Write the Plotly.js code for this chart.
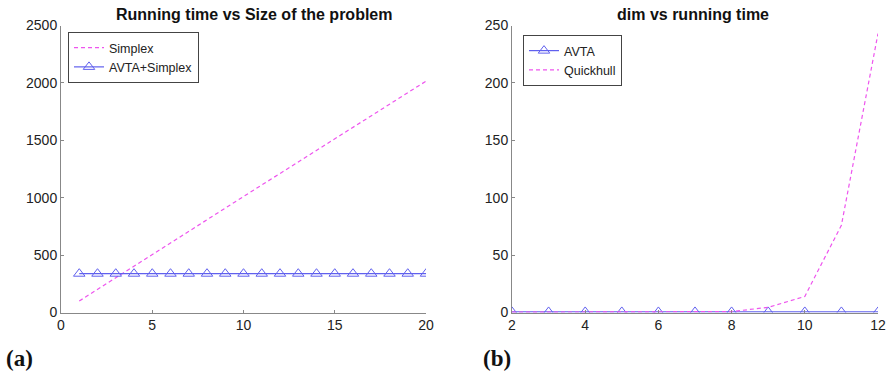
<!DOCTYPE html>
<html><head><meta charset="utf-8">
<script src="https://cdn.plot.ly/plotly-3.0.1.min.js"></script>
<style>html,body{margin:0;padding:0;background:#fff}#c{width:889px;height:376px}</style>
</head><body><div id="c"></div>
<script>
// Panel (a)
const sizeX = [1,2,3,4,5,6,7,8,9,10,11,12,13,14,15,16,17,18,19,20];
const simplexTime = [100,202,303,404,505,606,707,808,909,1010,1111,1212,1313,1414,1515,1616,1717,1818,1919,2015];
const avtaSimplexTime = [338,338,338,338,338,338,338,338,338,338,338,338,338,338,338,338,338,338,338,338];
// Panel (b)
const dimX = [2,3,4,5,6,7,8,9,10,11,12];
const avtaTime = [0.5,0.5,0.5,0.5,0.5,0.5,0.5,0.5,0.5,0.5,0.5];
const quickhullTime = [0.3,0.3,0.4,0.4,0.5,0.6,0.8,4.5,14,76,243];

const magenta = '#ee55ee';
const blue = '#6060ee';
const font = 'Liberation Sans, Arial, sans-serif';

const traces = [
  {x: sizeX, y: simplexTime, name: 'Simplex', mode: 'lines', line: {color: magenta, dash: '4px,3px', width: 1.2}, xaxis: 'x', yaxis: 'y', legend: 'legend'},
  {x: sizeX, y: avtaSimplexTime, name: 'AVTA+Simplex', mode: 'lines+markers', line: {color: blue, width: 1.2},
   marker: {symbol: 'triangle-up-open', size: 10, color: blue, line: {width: 1}}, xaxis: 'x', yaxis: 'y', legend: 'legend'},
  {x: dimX, y: avtaTime, name: 'AVTA', mode: 'lines+markers', line: {color: blue, width: 1.2},
   marker: {symbol: 'triangle-up-open', size: 10, color: blue, line: {width: 1}}, xaxis: 'x2', yaxis: 'y2', legend: 'legend2'},
  {x: dimX, y: quickhullTime, name: 'Quickhull', mode: 'lines', line: {color: magenta, dash: '4px,3px', width: 1.2}, xaxis: 'x2', yaxis: 'y2', legend: 'legend2'}
];

const W = 889, H = 376;
const yb = 1 - 312.5/H, yt = 1 - 25.5/H;
const axBase = {showgrid: false, zeroline: false, showline: true, linecolor: '#888', linewidth: 1,
  ticks: 'inside', ticklen: 3, tickcolor: '#888', tickfont: {family: font, size: 14, color: '#222'}, fixedrange: true};

const legBase = {xanchor: 'left', yanchor: 'top', bgcolor: '#fff', bordercolor: '#444', borderwidth: 1,
  font: {family: font, size: 12.5, color: '#222'}, tracegroupgap: 0, itemwidth: 30};

const layout = {
  width: W, height: H, margin: {l: 0, r: 0, t: 0, b: 0},
  paper_bgcolor: '#fff', plot_bgcolor: '#fff', showlegend: true,
  xaxis: Object.assign({}, axBase, {domain: [61/W, 426/W], range: [0, 20], tickvals: [0,5,10,15,20], anchor: 'y'}),
  yaxis: Object.assign({}, axBase, {domain: [yb, yt], range: [0, 2500], tickvals: [0,500,1000,1500,2000,2500], anchor: 'x'}),
  xaxis2: Object.assign({}, axBase, {domain: [512/W, 878/W], range: [2, 12], tickvals: [2,4,6,8,10,12], anchor: 'y2'}),
  yaxis2: Object.assign({}, axBase, {domain: [yb, yt], range: [0, 250], tickvals: [0,50,100,150,200,250], anchor: 'x2'}),
  legend: Object.assign({}, legBase, {x: 68/W, y: 1 - 32/H}),
  legend2: Object.assign({}, legBase, {x: 523/W, y: 1 - 35/H}),
  annotations: [
    {text: '<b>Running time vs Size of the problem</b>', x: 254/W, y: 1 - 14/H, xref: 'paper', yref: 'paper', showarrow: false,
     xanchor: 'center', yanchor: 'middle', font: {family: font, size: 16, color: '#111'}},
    {text: '<b>dim vs running time</b>', x: 693/W, y: 1 - 14/H, xref: 'paper', yref: 'paper', showarrow: false,
     xanchor: 'center', yanchor: 'middle', font: {family: font, size: 16, color: '#111'}},
    {text: '<b>(a)</b>', x: 4/W, y: 1 - 358/H, xref: 'paper', yref: 'paper', showarrow: false,
     xanchor: 'left', yanchor: 'middle', font: {family: 'Liberation Serif, Times New Roman, serif', size: 23, color: '#111'}},
    {text: '<b>(b)</b>', x: 481/W, y: 1 - 358/H, xref: 'paper', yref: 'paper', showarrow: false,
     xanchor: 'left', yanchor: 'middle', font: {family: 'Liberation Serif, Times New Roman, serif', size: 23, color: '#111'}}
  ]
};

Plotly.newPlot('c', traces, layout, {displayModeBar: false, staticPlot: true});
</script>
</body></html>
